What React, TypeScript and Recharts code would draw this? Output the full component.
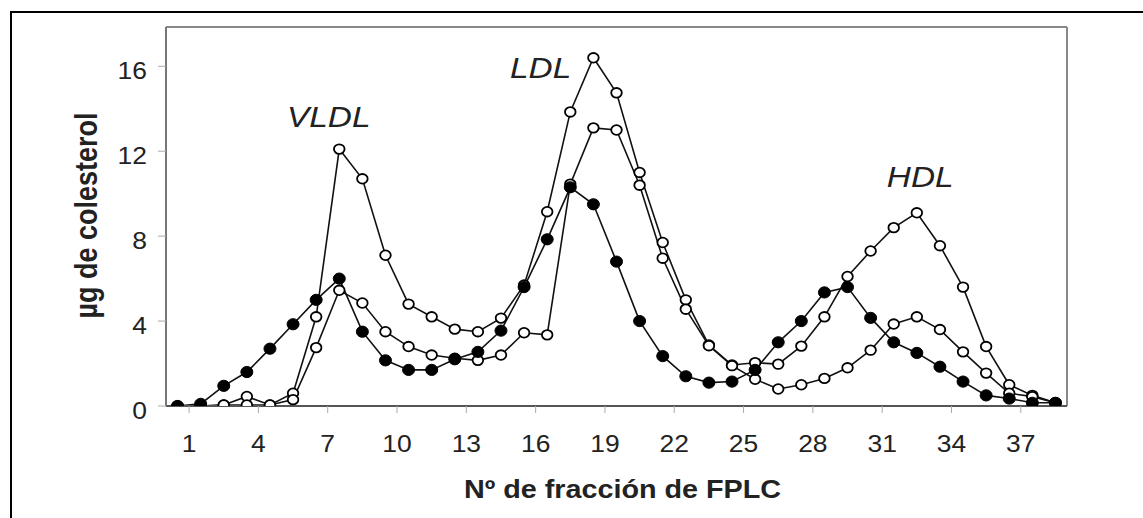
import React from 'react';
import { LineChart, Line, XAxis, YAxis, ReferenceLine, ReferenceDot } from 'recharts';

// Fraction positions (points sit between the numbered ticks)
const X_POS = [0.5, 1.5, 2.5, 3.5, 4.5, 5.5, 6.5, 7.5, 8.5, 9.5, 10.5, 11.5, 12.5, 13.5, 14.5, 15.5, 16.5, 17.5, 18.5, 19.5, 20.5, 21.5, 22.5, 23.5, 24.5, 25.5, 26.5, 27.5, 28.5, 29.5, 30.5, 31.5, 32.5, 33.5, 34.5, 35.5, 36.5, 37.5, 38.5];

// Filled circles
const SERIES_FILLED = [0, 0.1, 0.95, 1.6, 2.7, 3.85, 5.0, 6.0, 3.5, 2.15, 1.7, 1.7, 2.2, 2.55, 3.55, 5.6, 7.85, 10.3, 9.5, 6.8, 4.0, 2.35, 1.4, 1.1, 1.15, 1.7, 3.0, 4.0, 5.35, 5.6, 4.15, 3.0, 2.5, 1.85, 1.15, 0.5, 0.35, 0.15, 0.15];
// Open circles (high VLDL / LDL)
const SERIES_OPEN_HIGH = [0, 0, 0.05, 0.45, 0.05, 0.6, 4.2, 12.1, 10.7, 7.1, 4.8, 4.2, 3.62, 3.5, 4.14, 5.7, 9.15, 13.85, 16.4, 14.75, 11.0, 7.7, 5.0, 2.87, 1.93, 2.04, 1.97, 2.82, 4.2, 6.1, 7.3, 8.4, 9.1, 7.55, 5.6, 2.8, 1.0, 0.5, 0.15];
// Open circles (lower VLDL / LDL)
const SERIES_OPEN_LOW = [0, 0, 0.05, 0.05, 0.05, 0.3, 2.75, 5.45, 4.85, 3.5, 2.8, 2.4, 2.25, 2.15, 2.4, 3.45, 3.35, 10.45, 13.1, 13.0, 10.4, 6.96, 4.56, 2.84, 1.9, 1.26, 0.8, 1.0, 1.3, 1.8, 2.63, 3.86, 4.2, 3.6, 2.55, 1.55, 0.6, 0.44, 0.15];

const X_TICKS = [1, 4, 7, 10, 13, 16, 19, 22, 25, 28, 31, 34, 37];
const Y_TICKS = [0, 4, 8, 12, 16];
const X_MAX = 39;
const Y_MAX = 17.85;

const ANNOT_TEXT = ['VLDL', 'LDL', 'HDL'];
const ANNOT_X = [5.24, 14.89, 31.2];
const ANNOT_Y = [13.13, 15.44, 10.3];

const X_TITLE = 'Nº de fracción de FPLC';
const Y_TITLE = 'µg de colesterol';

const data = X_POS.map((x, i) => ({
  x,
  filled: SERIES_FILLED[i],
  high: SERIES_OPEN_HIGH[i],
  low: SERIES_OPEN_LOW[i],
}));

const FONT = '"Liberation Sans", Arial, sans-serif';
const SX = 1.15;

const XTick = (props: any) => {
  const { x, y, payload } = props;
  return (
    <g transform={`translate(${x},${y + 39}) scale(${SX},1)`}>
      <text x={0} y={0} textAnchor="middle" fontFamily={FONT} fontSize={23} fill="#222">
        {payload.value}
      </text>
    </g>
  );
};

const YTick = (props: any) => {
  const { x, y, payload } = props;
  return (
    <g transform={`translate(${x - 11},${y + 12.5}) scale(${SX},1)`}>
      <text x={0} y={0} textAnchor="end" fontFamily={FONT} fontSize={23} fill="#222">
        {payload.value}
      </text>
    </g>
  );
};

const YTitle = (props: any) => {
  const vb = props.viewBox || { x: 106, y: 27, width: 60, height: 379 };
  const cx = vb.x - 20;
  const cy = vb.y + vb.height / 2 - 1;
  return (
    <g transform={`translate(${cx},${cy}) scale(${SX},1) rotate(-90)`}>
      <text x={0} y={0} textAnchor="middle" dominantBaseline="central" fontFamily={FONT} fontWeight="bold" fontSize={27} fill="#222">
        {Y_TITLE}
      </text>
    </g>
  );
};

const XTitle = (props: any) => {
  const vb = props.viewBox || { x: 166, y: 406, width: 901, height: 60 };
  const cx = vb.x + vb.width / 2 + 6;
  const cy = vb.y + 92;
  return (
    <g transform={`translate(${cx},${cy}) scale(${SX},1)`}>
      <text x={0} y={0} textAnchor="middle" fontFamily={FONT} fontWeight="bold" fontSize={25} fill="#222">
        {X_TITLE}
      </text>
    </g>
  );
};

const makeAnnot = (text: string) => (props: any) => {
  const vb = props.viewBox || { x: 0, y: 0 };
  return (
    <g transform={`translate(${vb.x},${vb.y}) scale(${SX},1)`}>
      <text x={0} y={0} fontFamily={FONT} fontStyle="italic" fontSize={29} fill="#222">
        {text}
      </text>
    </g>
  );
};

const OpenDot = (props: any) => {
  const { cx, cy } = props;
  if (cx == null || cy == null) return null;
  return <ellipse cx={cx} cy={cy} rx={5.3} ry={4.8} fill="#fff" stroke="#000" strokeWidth={1.8} />;
};

const FilledDot = (props: any) => {
  const { cx, cy } = props;
  if (cx == null || cy == null) return null;
  return <ellipse cx={cx} cy={cy} rx={6} ry={5.6} fill="#000" stroke="#000" strokeWidth={1} />;
};

export default function App() {
  return (
    <div
      style={{
        position: 'absolute',
        left: 0,
        top: 0,
        width: 1143,
        height: 518,
        overflow: 'hidden',
        background: '#fff',
        fontFamily: FONT,
      }}
    >
      <div
        style={{
          position: 'absolute',
          left: 10,
          top: 11,
          width: 2000,
          height: 2000,
          borderTop: '2px solid #000',
          borderLeft: '2px solid #000',
        }}
      />
      <div style={{ position: 'absolute', left: 0, top: 0 }}>
        <LineChart width={1143} height={518} data={data} margin={{ top: 27, right: 76, bottom: 52, left: 106 }}>
          <XAxis
            dataKey="x"
            type="number"
            domain={[0, X_MAX]}
            ticks={X_TICKS}
            interval={0}
            allowDataOverflow
            height={60}
            tickSize={7}
            tickMargin={0}
            tickLine={{ stroke: '#aaa', strokeWidth: 1 }}
            axisLine={{ stroke: '#555', strokeWidth: 2 }}
            tick={<XTick />}
            label={<XTitle />}
          />
          <YAxis
            type="number"
            domain={[0, Y_MAX]}
            ticks={Y_TICKS}
            interval={0}
            allowDataOverflow
            width={60}
            tickSize={8}
            tickMargin={0}
            tickLine={{ stroke: '#aaa', strokeWidth: 1 }}
            axisLine={{ stroke: '#777', strokeWidth: 2 }}
            tick={<YTick />}
            label={<YTitle />}
          />
          <ReferenceLine y={Y_MAX} stroke="#888" strokeWidth={2} ifOverflow="visible" />
          <ReferenceLine x={X_MAX} stroke="#888" strokeWidth={2} ifOverflow="visible" />
          <Line
            dataKey="high"
            stroke="#111"
            strokeWidth={1.6}
            isAnimationActive={false}
            dot={<OpenDot />}
            activeDot={false}
          />
          <Line
            dataKey="low"
            stroke="#111"
            strokeWidth={1.6}
            isAnimationActive={false}
            dot={<OpenDot />}
            activeDot={false}
          />
          <Line
            dataKey="filled"
            stroke="#111"
            strokeWidth={1.6}
            isAnimationActive={false}
            dot={<FilledDot />}
            activeDot={false}
          />
          {ANNOT_TEXT.map((t, i) => (
            <ReferenceDot
              key={t}
              x={ANNOT_X[i]}
              y={ANNOT_Y[i]}
              r={0}
              fill="none"
              stroke="none"
              ifOverflow="visible"
              label={makeAnnot(t)}
            />
          ))}
        </LineChart>
      </div>
    </div>
  );
}
